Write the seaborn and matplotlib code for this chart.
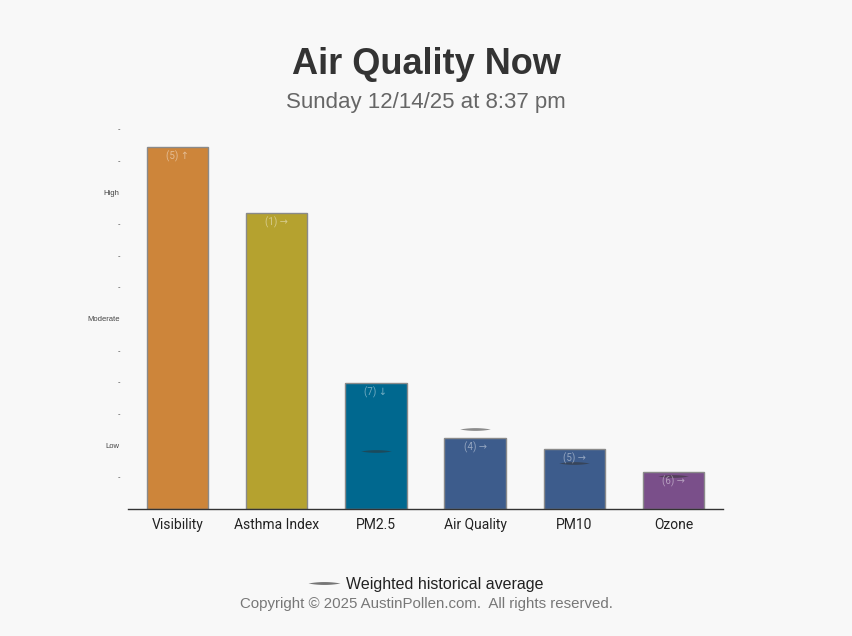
import numpy as np
import pandas as pd
import matplotlib
matplotlib.use("Agg")
import matplotlib.pyplot as plt
from matplotlib.path import Path
from matplotlib.lines import Line2D
import seaborn as sns

categories = ["Visibility", "Asthma Index", "PM2.5", "Air Quality", "PM10", "Ozone"]
values = [11.44, 9.35, 3.97, 2.23, 1.89, 1.16]
hist_avg = [None, None, 1.82, 2.52, 1.44, 1.03]
bar_labels = ["(5) \u2191", "(1) \u2192", "(7) \u2193", "(4) \u2192", "(5) \u2192", "(6) \u2192"]
colors = ["#CD853A", "#B5A22F", "#00688F", "#3D5C8C", "#3D5C8C", "#7A4F8A"]
ytick_pos = [1, 2, 3, 4, 5, 6, 7, 8, 9, 10, 11, 12]
ytick_labels = ["-", "Low", "-", "-", "-", "Moderate", "-", "-", "-", "High", "-", "-"]

bg = "#f8f8f8"
sns.set_theme(style="white")
plt.rcParams["font.family"] = ["Liberation Sans", "DejaVu Sans"]

fig = plt.figure(figsize=(8.52, 6.36), dpi=100, facecolor=bg)
ax = fig.add_axes([128/852, 1-508.6/636, (723-128)/852, (508.6-129)/636])
ax.set_facecolor(bg)

df = pd.DataFrame({"category": categories, "value": values})
sns.barplot(data=df, x="category", y="value", hue="category", palette=colors,
            width=0.62, edgecolor="#8a8a8a", linewidth=1, saturation=1,
            legend=False, ax=ax)

ax.set_xlim(-0.5, 5.5)
ax.set_ylim(0, 12)

# bar annotations
for i, (v, lab) in enumerate(zip(values, bar_labels)):
    ax.text(i, v - 0.12, lab, ha="center", va="top", fontsize=7,
            color="white", alpha=0.45, family=["Roboto", "DejaVu Sans"])

# historical average lens markers
t = np.linspace(0, np.pi, 40)
xs = -np.cos(t)
ys = 0.09 * np.sin(t) * np.sin(t)
verts = list(zip(xs, ys)) + list(zip(xs[::-1][1:], -ys[::-1][1:]))
lens = Path(verts)
hx = [i for i, h in enumerate(hist_avg) if h is not None]
hy = [h for h in hist_avg if h is not None]
ax.plot(hx, hy, linestyle="none", marker=lens, markersize=22,
        color="#333333", alpha=0.55, markeredgewidth=0)

ax.set_yticks(ytick_pos)
ax.set_yticklabels(ytick_labels, fontsize=5.5, color="#444444")
ax.tick_params(axis="y", length=0, pad=6)
ax.tick_params(axis="x", length=0, pad=7)
for lab in ax.get_xticklabels():
    lab.set_fontsize(10)
    lab.set_color("#222222")
    lab.set_family(["Roboto", "DejaVu Sans"])
ax.set_xlabel("")
ax.set_ylabel("")
for s in ["top", "right", "left"]:
    ax.spines[s].set_visible(False)
ax.spines["bottom"].set_color("#333333")
ax.spines["bottom"].set_linewidth(1)

fig.text(0.5, 1-74/636, "Air Quality Now", ha="center", va="baseline",
         fontsize=26, fontweight="bold", color="#333333")
fig.text(0.5, 1-108/636, "Sunday 12/14/25 at 8:37 pm", ha="center", va="baseline",
         fontsize=16, color="#666666")

# legend sample: lens-shaped line like the reference
leg_ax = fig.add_axes([308/852, 1-586/636, 32/852, 6/636])
leg_ax.set_axis_off()
leg_ax.set_xlim(-1, 1)
leg_ax.set_ylim(-1, 1)
leg_ax.plot([0], [0], marker=lens, markersize=23, color="#555555",
            alpha=0.8, markeredgewidth=0, linestyle="none")
fig.text(346/852, 1-589/636, "Weighted historical average", ha="left", va="baseline",
         fontsize=11.5, color="#222222")
fig.text(0.5, 1-608/636, "Copyright \u00a9 2025 AustinPollen.com.  All rights reserved.",
         ha="center", va="baseline", fontsize=10.8, color="#777777")

fig.savefig("out.png", dpi=100, facecolor=bg)
